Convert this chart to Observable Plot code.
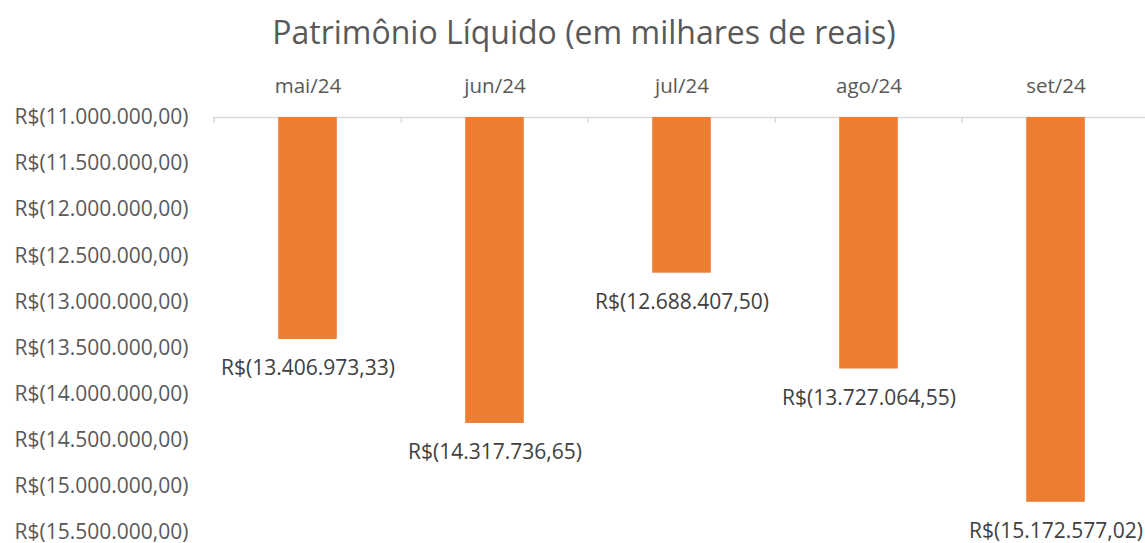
<!DOCTYPE html>
<html>
<head>
<meta charset="utf-8">
<script src="https://cdn.jsdelivr.net/npm/d3@7"></script>
<script src="https://cdn.jsdelivr.net/npm/@observablehq/plot@0.6"></script>
<style>
  html, body { margin: 0; padding: 0; background: #fff; overflow: hidden; width: 1145px; height: 543px; }
  #title { position: absolute; left: 0; top: 0; width: 1168px; height: 60px; text-align: center;
           font-family: "Open Sans", sans-serif; font-size: 32px; color: #595959; line-height: 64px; }
  #chart { position: absolute; left: 0; top: 60px; width: 1152px; }
  #chart svg { max-width: none !important; }
</style>
</head>
<body>
<div id="title">Patrimônio Líquido (em milhares de reais)</div>
<div id="chart"></div>
<script>
const months = ["mai/24", "jun/24", "jul/24", "ago/24", "set/24"];
const values = [-13406973.33, -14317736.65, -12688407.50, -13727064.55, -15172577.02];
const yTicks = [-11000000, -11500000, -12000000, -12500000, -13000000, -13500000, -14000000, -14500000, -15000000, -15500000];
const baseline = -11000000;

const data = months.map((m, i) => ({month: m, value: values[i]}));

const locale = d3.formatLocale({decimal: ",", thousands: ".", grouping: [3], currency: ["R$", ""]});
const num = locale.format(",.2f");
const fmt = v => v < 0 ? "R$(" + num(-v) + ")" : "R$" + num(v);

const W = 1152, ML = 213, MR = 2;
const bw = (W - ML - MR) / months.length;
const barW = 59;

const chart = Plot.plot({
  width: W,
  height: 483,
  marginLeft: ML,
  marginRight: MR,
  marginTop: 57,
  marginBottom: 11,
  style: {fontFamily: "'Open Sans', sans-serif", fontSize: "21px", color: "#595959", background: "white", overflow: "visible", maxWidth: "none"},
  x: {type: "band", domain: months, padding: 0},
  y: {domain: [-15500000, -11000000]},
  marks: [
    Plot.ruleY([baseline], {stroke: "#d9d9d9", strokeWidth: 1.3}),
    Plot.ruleX(months, {x: d => d, dx: -bw / 2, y1: baseline, y2: baseline - 65000, stroke: "#d9d9d9", strokeWidth: 1.3}),
    Plot.barY(data, {x: "month", y1: baseline, y2: "value", fill: "#ED7D31",
                     insetLeft: (bw - barW) / 2, insetRight: (bw - barW) / 2}),
    Plot.text(data, {x: "month", y: "value", text: d => fmt(d.value), dy: 29,
                     fill: "#404040", fontSize: 21}),
    Plot.axisX({anchor: "top", tickSize: 0, tickPadding: 25, fontSize: 20.5, fill: "#595959", label: null}),
    Plot.axisY({ticks: yTicks, tickSize: 0, tickPadding: 25, tickFormat: fmt, fontSize: 21, fill: "#595959", label: null})
  ]
});
document.getElementById("chart").appendChild(chart);
</script>
</body>
</html>
